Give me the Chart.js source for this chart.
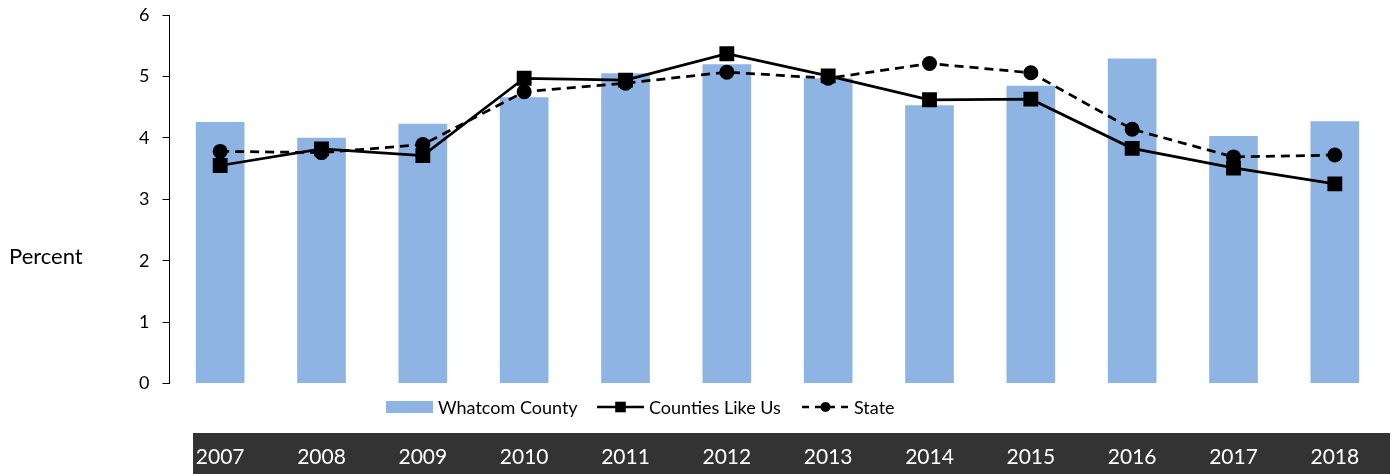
<!DOCTYPE html>
<html>
<head>
<meta charset="utf-8">
<script src="https://cdn.jsdelivr.net/npm/chart.js@4.4.1/dist/chart.umd.min.js"></script>
<style>
  html, body { margin: 0; padding: 0; background: #fff; }
  #wrap { width: 1396px; height: 474px; }
</style>
</head>
<body>
<div id="wrap"><canvas id="chart"></canvas></div>
<script>
const YEARS = ["2007", "2008", "2009", "2010", "2011", "2012", "2013", "2014", "2015", "2016", "2017", "2018"];
const WHATCOM = [4.26, 4.00, 4.23, 4.66, 5.05, 5.20, 4.97, 4.53, 4.85, 5.29, 4.03, 4.27];
const COUNTIES = [3.55, 3.82, 3.71, 4.97, 4.94, 5.37, 5.01, 4.62, 4.63, 3.83, 3.51, 3.25];
const STATE = [3.78, 3.76, 3.89, 4.75, 4.89, 5.07, 4.97, 5.21, 5.06, 4.14, 3.69, 3.72];
const Y_TICKS = [0, 1, 2, 3, 4, 5, 6];

const FONT = "Lato, 'DejaVu Sans', sans-serif";
const BAR_COLOR = "#8EB4E3";
const LEGEND_X = [386, 597, 802];

// dark strip behind the year labels
const yearBand = {
  id: "yearBand",
  beforeDraw(chart) {
    const { ctx } = chart;
    ctx.save();
    ctx.fillStyle = "#333333";
    ctx.fillRect(193, 433, chart.width - 6 - 193, chart.height - 433);
    ctx.restore();
  },
};

// horizontal y-axis title
const sideTitle = {
  id: "sideTitle",
  afterDraw(chart) {
    const { ctx } = chart;
    ctx.save();
    ctx.font = `22px ${FONT}`;
    ctx.fillStyle = "#000";
    ctx.textBaseline = "middle";
    ctx.fillText("Percent", 9, 257);
    ctx.restore();
  },
};

// legend row between the plot and the year strip
const legendRow = {
  id: "legendRow",
  afterDraw(chart) {
    const { ctx } = chart;
    const cy = 407;
    ctx.save();
    ctx.font = `18px ${FONT}`;
    ctx.textBaseline = "middle";
    chart.data.datasets.forEach((ds, i) => {
      const x = LEGEND_X[i];
      if (ds.type === "bar") {
        ctx.fillStyle = ds.backgroundColor;
        ctx.fillRect(x, cy - 6, 47, 12);
      } else {
        ctx.strokeStyle = ds.borderColor;
        ctx.lineWidth = 2.5;
        ctx.setLineDash(ds.borderDash ? [7, 6] : []);
        ctx.beginPath();
        ctx.moveTo(x, cy);
        ctx.lineTo(x + 47, cy);
        ctx.stroke();
        ctx.setLineDash([]);
        ctx.fillStyle = ds.pointBackgroundColor;
        Chart.helpers.drawPoint(ctx, {
          pointStyle: ds.pointStyle,
          radius: ds.pointStyle === "rect" ? 7.5 : 5,
          borderWidth: 0,
        }, x + 23.5, cy);
      }
      ctx.fillStyle = "#000";
      ctx.fillText(ds.label, x + 52, cy + 1);
    });
    ctx.restore();
  },
};

new Chart(document.getElementById("chart"), {
  data: {
    labels: YEARS,
    datasets: [
      {
        type: "bar",
        label: "Whatcom County",
        data: WHATCOM,
        backgroundColor: BAR_COLOR,
        barPercentage: 0.48,
        categoryPercentage: 1,
        order: 3,
      },
      {
        type: "line",
        label: "Counties Like Us",
        data: COUNTIES,
        borderColor: "#000",
        borderWidth: 2.75,
        pointStyle: "rect",
        pointRadius: 10.5,
        pointBackgroundColor: "#000",
        pointBorderWidth: 0,
        tension: 0,
        order: 1,
      },
      {
        type: "line",
        label: "State",
        data: STATE,
        borderColor: "#000",
        borderWidth: 2.75,
        borderDash: [9, 6],
        pointStyle: "circle",
        pointRadius: 7.5,
        pointBackgroundColor: "#000",
        pointBorderWidth: 0,
        tension: 0,
        order: 2,
      },
    ],
  },
  options: {
    responsive: true,
    maintainAspectRatio: false,
    animation: false,
    layout: { padding: { top: 15, right: 8, left: 0, bottom: 0 } },
    plugins: {
      legend: { display: false },
      tooltip: { enabled: false },
    },
    scales: {
      x: {
        grid: { display: false, drawTicks: false },
        border: { display: false },
        ticks: {
          color: "#fff",
          font: { family: FONT, size: 21 },
          padding: 61,
          maxRotation: 0,
        },
        afterFit: (scale) => {
          scale.height = 90.4;
          scale.paddingLeft = 0;
          scale.paddingRight = 0;
        },
      },
      y: {
        min: 0,
        max: 6,
        afterBuildTicks: (scale) => { scale.ticks = Y_TICKS.map((v) => ({ value: v })); },
        grid: { drawOnChartArea: false, drawTicks: true, tickLength: 7, color: "#000" },
        border: { display: true, color: "#000", width: 1 },
        ticks: {
          color: "#000",
          font: { family: FONT, size: 18 },
          padding: 13,
        },
        afterFit: (scale) => {
          scale.width = 169.5;
          scale.paddingTop = 0;
          scale.paddingBottom = 0;
        },
      },
    },
  },
  plugins: [yearBand, sideTitle, legendRow],
});
</script>
</body>
</html>
